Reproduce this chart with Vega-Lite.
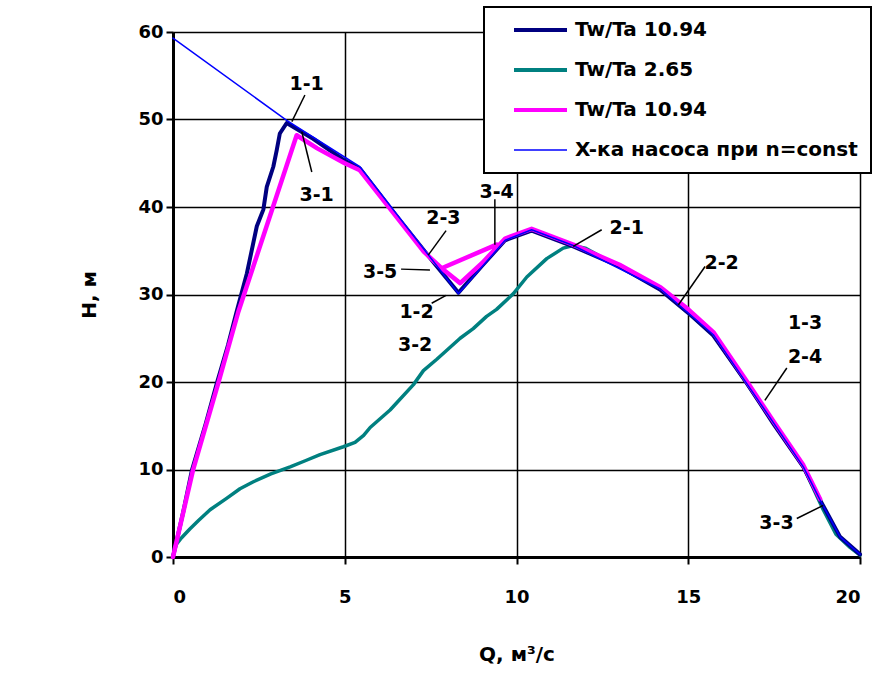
{
  "$schema": "https://vega.github.io/schema/vega-lite/v6.json",
  "autosize": "none",
  "width": 687,
  "height": 525,
  "padding": {"left": 173, "top": 32, "right": 18, "bottom": 129},
  "background": "white",
  "config": {
    "font": "DejaVu Sans",
    "view": {"stroke": null},
    "axis": {
      "grid": true,
      "gridColor": "black",
      "gridWidth": 1.5,
      "gridOpacity": 1,
      "domainColor": "black",
      "domainWidth": 3,
      "tickColor": "black",
      "tickWidth": 2,
      "tickSize": 7,
      "labelFont": "DejaVu Sans",
      "labelFontSize": 18,
      "labelFontWeight": "bold",
      "labelColor": "black",
      "titleFont": "DejaVu Sans",
      "titleFontSize": 20,
      "titleFontWeight": "bold",
      "titleColor": "black"
    },
    "legend": {
      "strokeWidth": 2
    }
  },
  "datasets": {
    "curves": [
      {"s": "a", "o": 1, "Q": 0, "H": 0},
      {"s": "a", "o": 2, "Q": 0.3, "H": 5.2},
      {"s": "a", "o": 3, "Q": 0.55, "H": 9.9},
      {"s": "a", "o": 4, "Q": 0.95, "H": 15.2},
      {"s": "a", "o": 5, "Q": 1.28, "H": 19.9},
      {"s": "a", "o": 6, "Q": 1.6, "H": 24.2},
      {"s": "a", "o": 7, "Q": 1.85, "H": 28},
      {"s": "a", "o": 8, "Q": 2.15, "H": 32.4},
      {"s": "a", "o": 9, "Q": 2.44, "H": 37.8},
      {"s": "a", "o": 10, "Q": 2.63, "H": 39.7},
      {"s": "a", "o": 11, "Q": 2.73, "H": 42.3},
      {"s": "a", "o": 12, "Q": 2.92, "H": 44.6},
      {"s": "a", "o": 13, "Q": 3.02, "H": 46.5},
      {"s": "a", "o": 14, "Q": 3.11, "H": 48.4},
      {"s": "a", "o": 15, "Q": 3.31, "H": 49.6},
      {"s": "a", "o": 16, "Q": 4.08, "H": 47.8},
      {"s": "a", "o": 17, "Q": 5.0, "H": 45.3},
      {"s": "a", "o": 18, "Q": 5.44, "H": 44.4},
      {"s": "a", "o": 19, "Q": 6.5, "H": 39.0},
      {"s": "a", "o": 20, "Q": 7.6, "H": 33.6},
      {"s": "a", "o": 21, "Q": 8.31, "H": 30.2},
      {"s": "a", "o": 22, "Q": 9.0, "H": 33.3},
      {"s": "a", "o": 23, "Q": 9.67, "H": 36.2},
      {"s": "a", "o": 24, "Q": 10.44, "H": 37.3},
      {"s": "a", "o": 25, "Q": 11.65, "H": 35.5},
      {"s": "a", "o": 26, "Q": 13.0, "H": 33.2},
      {"s": "a", "o": 27, "Q": 14.2, "H": 30.5},
      {"s": "a", "o": 28, "Q": 15.0, "H": 27.9},
      {"s": "a", "o": 29, "Q": 15.73, "H": 25.3},
      {"s": "a", "o": 30, "Q": 16.7, "H": 19.9},
      {"s": "a", "o": 31, "Q": 17.5, "H": 15.1},
      {"s": "a", "o": 32, "Q": 18.35, "H": 10.3},
      {"s": "a", "o": 33, "Q": 18.84, "H": 6.5},
      {"s": "a", "o": 34, "Q": 19.42, "H": 2.3},
      {"s": "a", "o": 35, "Q": 20, "H": 0.3},

      {"s": "b", "o": 1, "Q": 0, "H": 0},
      {"s": "b", "o": 2, "Q": 0.05, "H": 1.2},
      {"s": "b", "o": 3, "Q": 0.25, "H": 2.2},
      {"s": "b", "o": 4, "Q": 0.49, "H": 3.2},
      {"s": "b", "o": 5, "Q": 0.75, "H": 4.2},
      {"s": "b", "o": 6, "Q": 1.08, "H": 5.4},
      {"s": "b", "o": 7, "Q": 1.56, "H": 6.7},
      {"s": "b", "o": 8, "Q": 1.95, "H": 7.8},
      {"s": "b", "o": 9, "Q": 2.34, "H": 8.6},
      {"s": "b", "o": 10, "Q": 2.85, "H": 9.5},
      {"s": "b", "o": 11, "Q": 3.41, "H": 10.3},
      {"s": "b", "o": 12, "Q": 3.85, "H": 11.0},
      {"s": "b", "o": 13, "Q": 4.28, "H": 11.7},
      {"s": "b", "o": 14, "Q": 4.96, "H": 12.6},
      {"s": "b", "o": 15, "Q": 5.3, "H": 13.1},
      {"s": "b", "o": 16, "Q": 5.55, "H": 13.9},
      {"s": "b", "o": 17, "Q": 5.74, "H": 14.8},
      {"s": "b", "o": 18, "Q": 6.32, "H": 16.8},
      {"s": "b", "o": 19, "Q": 7.0, "H": 19.7},
      {"s": "b", "o": 20, "Q": 7.29, "H": 21.3},
      {"s": "b", "o": 21, "Q": 7.68, "H": 22.6},
      {"s": "b", "o": 22, "Q": 8.36, "H": 25.0},
      {"s": "b", "o": 23, "Q": 8.74, "H": 26.1},
      {"s": "b", "o": 24, "Q": 9.13, "H": 27.5},
      {"s": "b", "o": 25, "Q": 9.42, "H": 28.3},
      {"s": "b", "o": 26, "Q": 9.91, "H": 30.1},
      {"s": "b", "o": 27, "Q": 10.3, "H": 32.0},
      {"s": "b", "o": 28, "Q": 10.88, "H": 34.1},
      {"s": "b", "o": 29, "Q": 11.36, "H": 35.3},
      {"s": "b", "o": 30, "Q": 11.65, "H": 35.6},
      {"s": "b", "o": 31, "Q": 12.0, "H": 35.3},
      {"s": "b", "o": 32, "Q": 14.2, "H": 30.6},
      {"s": "b", "o": 33, "Q": 15.73, "H": 25.4},
      {"s": "b", "o": 34, "Q": 16.7, "H": 19.85},
      {"s": "b", "o": 35, "Q": 18.35, "H": 10.3},
      {"s": "b", "o": 36, "Q": 18.93, "H": 5.4},
      {"s": "b", "o": 37, "Q": 19.3, "H": 2.6},
      {"s": "b", "o": 38, "Q": 19.71, "H": 1.1},
      {"s": "b", "o": 39, "Q": 20, "H": 0.2},

      {"s": "c", "o": 1, "Q": 0, "H": 0},
      {"s": "c", "o": 2, "Q": 0.58, "H": 9.9},
      {"s": "c", "o": 3, "Q": 1.32, "H": 19.9},
      {"s": "c", "o": 4, "Q": 1.9, "H": 28.0},
      {"s": "c", "o": 5, "Q": 3.6, "H": 48.2},
      {"s": "c", "o": 6, "Q": 4.2, "H": 46.7},
      {"s": "c", "o": 7, "Q": 5.0, "H": 45.0},
      {"s": "c", "o": 8, "Q": 5.44, "H": 44.2},
      {"s": "c", "o": 9, "Q": 6.5, "H": 38.9},
      {"s": "c", "o": 10, "Q": 7.3, "H": 34.9},
      {"s": "c", "o": 11, "Q": 7.82, "H": 33.0},
      {"s": "c", "o": 12, "Q": 9.42, "H": 35.7},
      {"s": "c", "o": 13, "Q": 7.82, "H": 33.0},
      {"s": "c", "o": 14, "Q": 8.36, "H": 31.3},
      {"s": "c", "o": 15, "Q": 9.0, "H": 33.6},
      {"s": "c", "o": 16, "Q": 9.67, "H": 36.4},
      {"s": "c", "o": 17, "Q": 10.44, "H": 37.5},
      {"s": "c", "o": 18, "Q": 11.65, "H": 35.7},
      {"s": "c", "o": 19, "Q": 13.0, "H": 33.4},
      {"s": "c", "o": 20, "Q": 14.2, "H": 30.8},
      {"s": "c", "o": 21, "Q": 15.0, "H": 28.3},
      {"s": "c", "o": 22, "Q": 15.73, "H": 25.7},
      {"s": "c", "o": 23, "Q": 16.7, "H": 20.1},
      {"s": "c", "o": 24, "Q": 17.5, "H": 15.4},
      {"s": "c", "o": 25, "Q": 18.35, "H": 10.5},
      {"s": "c", "o": 26, "Q": 18.84, "H": 6.6},

      {"s": "d", "o": 1, "Q": 0, "H": 59.3},
      {"s": "d", "o": 2, "Q": 3.31, "H": 49.9},
      {"s": "d", "o": 3, "Q": 5.44, "H": 44.6},
      {"s": "d", "o": 4, "Q": 8.31, "H": 30.1},
      {"s": "d", "o": 5, "Q": 9.67, "H": 36.2},
      {"s": "d", "o": 6, "Q": 10.44, "H": 37.4},
      {"s": "d", "o": 7, "Q": 11.65, "H": 35.6},
      {"s": "d", "o": 8, "Q": 14.2, "H": 30.6},
      {"s": "d", "o": 9, "Q": 15.73, "H": 25.4},
      {"s": "d", "o": 10, "Q": 16.7, "H": 19.85},
      {"s": "d", "o": 11, "Q": 18.35, "H": 10.3},
      {"s": "d", "o": 12, "Q": 18.84, "H": 6.5},
      {"s": "d", "o": 13, "Q": 19.42, "H": 2.3},
      {"s": "d", "o": 14, "Q": 20, "H": 0.3}
    ],
    "labels": [
      {"t": "1-1", "Q": 3.89, "H": 54.1},
      {"t": "3-1", "Q": 4.18, "H": 41.4},
      {"t": "2-3", "Q": 7.87, "H": 38.7},
      {"t": "3-5", "Q": 6.03, "H": 32.6},
      {"t": "1-2", "Q": 7.09, "H": 28.0},
      {"t": "3-2", "Q": 7.05, "H": 24.2},
      {"t": "3-4", "Q": 9.42, "H": 41.7},
      {"t": "2-1", "Q": 13.21, "H": 37.6},
      {"t": "2-2", "Q": 15.97, "H": 33.6},
      {"t": "1-3", "Q": 18.4, "H": 26.7},
      {"t": "2-4", "Q": 18.4, "H": 22.9},
      {"t": "3-3", "Q": 17.57, "H": 3.85}
    ],
    "leaders": [
      {"Q": 3.84, "H": 52.8, "Q2": 3.46, "H2": 49.75},
      {"Q": 4.04, "H": 44.0, "Q2": 3.75, "H2": 48.6},
      {"Q": 7.95, "H": 37.3, "Q2": 7.43, "H2": 34.5},
      {"Q": 6.64, "H": 32.9, "Q2": 7.48, "H2": 32.8},
      {"Q": 7.53, "H": 29.0, "Q2": 7.95, "H2": 29.9},
      {"Q": 9.37, "H": 40.9, "Q2": 9.37, "H2": 35.7},
      {"Q": 12.48, "H": 37.4, "Q2": 11.65, "H2": 35.5},
      {"Q": 15.49, "H": 33.2, "Q2": 14.71, "H2": 28.8},
      {"Q": 17.87, "H": 21.6, "Q2": 17.23, "H2": 17.9},
      {"Q": 18.16, "H": 4.4, "Q2": 18.93, "H2": 5.9}
    ]
  },
  "encoding": {
    "x": {
      "field": "Q", "type": "quantitative",
      "scale": {"domain": [0, 20], "nice": false, "zero": false},
      "axis": {"values": [0, 5, 10, 15, 20], "title": "Q, м³/с", "labelPadding": 24, "titlePadding": 38}
    },
    "y": {
      "field": "H", "type": "quantitative",
      "scale": {"domain": [0, 60], "nice": false, "zero": false},
      "axis": {"values": [0, 10, 20, 30, 40, 50, 60], "title": "H, м", "labelPadding": 3, "titlePadding": 38}
    }
  },
  "layer": [
    {
      "data": {"name": "curves"},
      "transform": [{"filter": "datum.s === 'b'"}],
      "mark": {"type": "line", "strokeJoin": "round", "strokeCap": "round", "strokeWidth": 3.5},
      "encoding": {
        "order": {"field": "o", "type": "quantitative"},
        "color": {"field": "s", "type": "nominal",
          "scale": {"domain": ["a", "b", "c", "d"], "range": ["#000080", "#008080", "#FF00FF", "#0000FF"]},
          "legend": {
            "title": null,
            "orient": "none",
            "legendX": 311,
            "legendY": -25,
            "fillColor": "white",
            "strokeColor": "black",
            "padding": 13,
            "cornerRadius": 0,
            "symbolType": "M0.7,0H6.0",
            "symbolSize": 400,
            "symbolStrokeWidth": 4,
            "labelOffset": 58,
            "rowPadding": 20,
            "labelFont": "DejaVu Sans",
            "labelFontSize": 20,
            "labelFontWeight": "bold",
            "labelColor": "black",
            "labelLimit": 500,
            "labelExpr": "datum.value === 'a' ? 'Tw/Ta 10.94' : datum.value === 'b' ? 'Tw/Ta 2.65' : datum.value === 'c' ? 'Tw/Ta 10.94' : 'X-ка насоса при n=const'",
            "encode": {"symbols": {"update": {"strokeWidth": {"signal": "datum.value === 'd' ? 1.5 : 4"}}}}
          }
        }
      }
    },
    {
      "data": {"name": "curves"},
      "transform": [{"filter": "datum.s === 'a'"}],
      "mark": {"type": "line", "strokeJoin": "round", "strokeCap": "round", "strokeWidth": 4},
      "encoding": {
        "order": {"field": "o", "type": "quantitative"},
        "color": {"field": "s", "type": "nominal"}
      }
    },
    {
      "data": {"name": "curves"},
      "transform": [{"filter": "datum.s === 'c'"}],
      "mark": {"type": "line", "strokeJoin": "round", "strokeCap": "round", "strokeWidth": 4.5},
      "encoding": {
        "order": {"field": "o", "type": "quantitative"},
        "color": {"field": "s", "type": "nominal"}
      }
    },
    {
      "data": {"name": "curves"},
      "transform": [{"filter": "datum.s === 'd'"}],
      "mark": {"type": "line", "strokeJoin": "round", "strokeCap": "round", "strokeWidth": 1.5},
      "encoding": {
        "order": {"field": "o", "type": "quantitative"},
        "color": {"field": "s", "type": "nominal"}
      }
    },
    {
      "data": {"name": "leaders"},
      "mark": {"type": "rule", "color": "black", "strokeWidth": 1.5},
      "encoding": {
        "x2": {"field": "Q2"},
        "y2": {"field": "H2"}
      }
    },
    {
      "data": {"name": "labels"},
      "mark": {"type": "text", "font": "DejaVu Sans", "fontSize": 19, "fontWeight": "bold", "color": "black", "align": "center", "baseline": "middle"},
      "encoding": {"text": {"field": "t"}}
    }
  ]
}
